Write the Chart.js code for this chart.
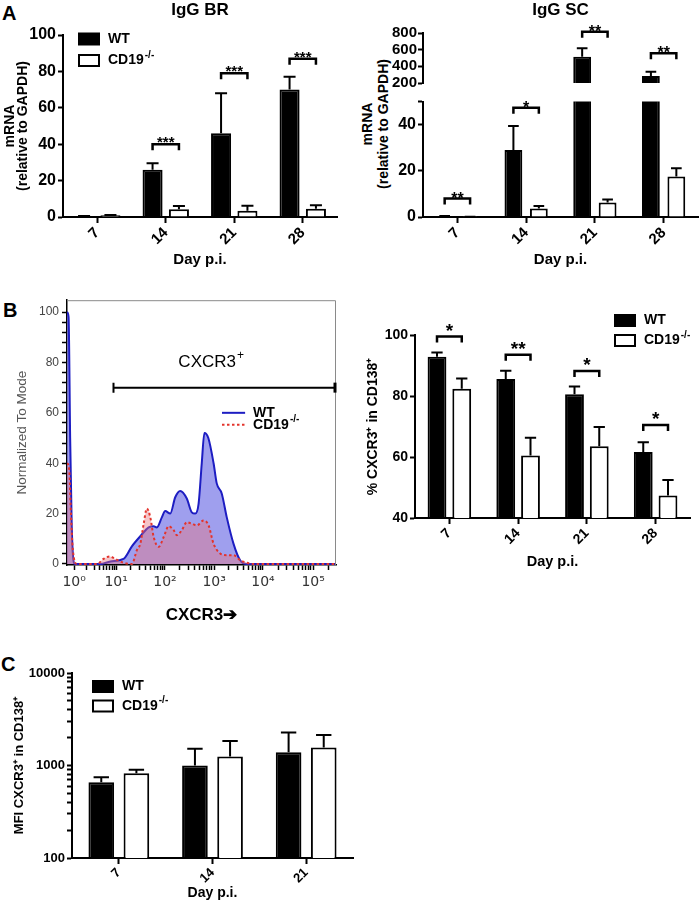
<!DOCTYPE html>
<html>
<head>
<meta charset="utf-8">
<script src="https://cdn.jsdelivr.net/npm/chart.js@4.4.1/dist/chart.umd.min.js"></script>
<style>
  body { margin: 0; background: #fff; width: 700px; height: 912px; position: relative; overflow: hidden; font-family: "Liberation Sans", Arial, sans-serif; }
  canvas { position: absolute; }
  .panel { position: absolute; font-weight: bold; font-size: 20px; line-height: 20px; }
  #scTitle { position: absolute; left: 275px; top: 108px; width: 200px; height: 32px; transform: rotate(-90deg);
             text-align: center; font-weight: bold; font-size: 14px; line-height: 16px; white-space: nowrap; }
</style>
</head>
<body>
<div class="panel" style="left:2px;top:3px">A</div>
<div class="panel" style="left:3px;top:300px">B</div>
<div class="panel" style="left:1px;top:654px">C</div>
<div id="scTitle">mRNA<br>(relative to GAPDH)</div>

<canvas id="brA"></canvas>
<canvas id="scTop"></canvas>
<canvas id="scBot"></canvas>
<canvas id="histB"></canvas>
<canvas id="pctB"></canvas>
<canvas id="mfiC"></canvas>

<script>
// ---- data ----
const days = ['7', '14', '21', '28'];
const daysC = ['7', '14', '21'];
const groups = ['WT', 'CD19-/-'];

// A, IgG BR
const brWT = [0.5, 26, 46, 70];
const brWTErr = [0.6, 29.5, 68, 77];
const brKO = [0.9, 4.2, 3.4, 4.6];
const brKOErr = [1.1, 6, 6.2, 6.5];
const brSig = ['', '***', '***', '***'];
const brSigY = [null, 40, 79, 87];

// A, IgG SC (broken axis)
const scWT = [0.3, 29, 515, 284];
const scWTErr = [0.4, 39.4, 616, 336];
const scKO = [0.1, 3.7, 6.3, 17.6];
const scKOErr = [0.15, 4.8, 7.6, 21.1];
const scSig = ['**', '*', '**', '**'];
const scSigY = [8, 47.3, 816, 556];

// B, histogram (x in display channels 0-1024)
const histTickPos = [27, 187, 373, 560, 746, 937];
const histTickLbl = ['10⁰', '10¹', '10²', '10³', '10⁴', '10⁵'];
const wtHistX = [0, 6, 12, 18, 28, 127, 165, 215, 247, 279, 311, 330, 342, 361, 374, 393, 412, 431, 456, 475, 488, 501, 513, 523, 538, 558, 570, 589, 608, 634, 659, 684, 1024];
const wtHistY = [100, 98, 50, 15, 0, 0, 1, 2, 7, 11, 14.5, 15, 14.5, 18.5, 21, 20, 26.5, 29, 26, 20.5, 20, 24, 40, 52, 50, 40, 32, 28, 18.6, 8, 1.5, 0, 0];
const koHistX = [0, 8, 15, 22, 38, 114, 139, 162, 184, 215, 247, 266, 279, 292, 304, 317, 330, 349, 368, 387, 406, 418, 437, 456, 475, 494, 520, 539, 558, 583, 608, 634, 659, 684, 710, 1024];
const koHistY = [40, 38, 20, 6, 0, 0, 2, 3, 2, 0.5, 0, 5.5, 8, 16, 22, 18.6, 10.7, 6.8, 10.7, 15, 13.4, 11.4, 13.4, 16.6, 16, 15.3, 17.3, 15.3, 8, 4.2, 3.5, 3.5, 1.5, 0.5, 0, 0];

// B, % CXCR3+
const pctWT = [92.9, 85.6, 80.6, 61.6];
const pctWTErr = [94.3, 88.3, 83.1, 64.8];
const pctKO = [82.4, 60.5, 63.5, 47.4];
const pctKOErr = [85.7, 66.3, 69.8, 52.5];
const pctSig = ['*', '**', '*', '*'];
const pctSigY = [99.5, 93.5, 88.2, 70.5];

// C, MFI
const mfiWT = [661, 1000, 1393];
const mfiWTErr = [748, 1513, 2270];
const mfiKO = [827, 1251, 1564];
const mfiKOErr = [898, 1845, 2143];

// ---- setup ----
const FONT = '"Liberation Sans", Arial, Helvetica, sans-serif';
Chart.defaults.font.family = FONT;
Chart.defaults.color = '#000';
Chart.defaults.animation = false;
Chart.defaults.responsive = false;
Chart.defaults.devicePixelRatio = 1;
Chart.defaults.plugins.legend.display = false;
Chart.defaults.plugins.tooltip.enabled = false;

function bold(size) { return { family: FONT, size: size, weight: 'bold' }; }

function merge(a, b) {
  for (const k in b) {
    if (b[k] && typeof b[k] === 'object' && !Array.isArray(b[k]) && a[k] && typeof a[k] === 'object') merge(a[k], b[k]);
    else a[k] = b[k];
  }
  return a;
}

function place(id, left, top, w, h) {
  const c = document.getElementById(id);
  c.width = w; c.height = h;
  c.style.left = left + 'px'; c.style.top = top + 'px';
  return c;
}

function xAxis(tickSize, height, title, titleSize, titleBottom) {
  return {
    type: 'category',
    afterFit: s => { s.height = height; },
    grid: { drawOnChartArea: false, offset: false, tickLength: 6, tickWidth: 2, color: '#000' },
    border: { width: 2, color: '#000' },
    ticks: { font: bold(tickSize), minRotation: 45, maxRotation: 45, padding: 1, color: '#000' },
    title: { display: true, text: title, font: bold(titleSize), color: '#000', padding: { top: 0, bottom: titleBottom } }
  };
}

function yAxis(tickSize, width, extra) {
  return merge({
    afterFit: s => { s.width = width; },
    grid: { drawOnChartArea: false, tickLength: 5, tickWidth: 2, color: '#000' },
    border: { width: 2, color: '#000' },
    ticks: { font: bold(tickSize), padding: 2, color: '#000', autoSkip: false }
  }, extra || {});
}

function barSets(wt, ko, cp, bp, clip) {
  const c = clip || { top: false, bottom: 0, left: false, right: false };
  return [
    { label: groups[0], data: wt, backgroundColor: '#000', borderColor: '#000', borderWidth: 2, categoryPercentage: cp, barPercentage: bp, clip: c },
    { label: groups[1], data: ko, backgroundColor: '#fff', borderColor: '#000', borderWidth: 2, categoryPercentage: cp, barPercentage: bp, clip: c }
  ];
}

// label with "-/-" or "+" drawn as superscript
function supText(ctx, text, x, y, size, weight) {
  let k = text.indexOf('-/-');
  if (k < 0 && text.endsWith('+')) k = text.length - 1;
  const main = k < 0 ? text : text.slice(0, k);
  ctx.font = weight + ' ' + size + 'px ' + FONT;
  ctx.fillText(main, x, y);
  if (k >= 0) {
    const w = ctx.measureText(main).width;
    ctx.font = weight + ' ' + Math.round(size * 0.68) + 'px ' + FONT;
    ctx.fillText(text.slice(k), x + w + 1, y - size * 0.38);
  }
}

// error bars, significance brackets, legend boxes
const extras = {
  id: 'extras',
  afterDatasetsDraw(chart, args, o) {
    const ctx = chart.ctx, y = chart.scales.y;
    if (!y) return;
    ctx.save();
    ctx.strokeStyle = '#000';
    ctx.fillStyle = '#000';
    if (o.errors) {
      ctx.lineWidth = 2;
      o.errors.forEach((errs, di) => {
        const meta = chart.getDatasetMeta(di);
        meta.data.forEach((bar, i) => {
          const v = chart.data.datasets[di].data[i];
          if (v < y.min || v > y.max) return;
          const top = y.getPixelForValue(errs[i]);
          const half = bar.width * 0.3;
          ctx.beginPath();
          ctx.moveTo(bar.x, bar.y);
          ctx.lineTo(bar.x, top);
          ctx.moveTo(bar.x - half, top);
          ctx.lineTo(bar.x + half, top);
          ctx.stroke();
        });
      });
    }
    if (o.sig) {
      const m0 = chart.getDatasetMeta(0), m1 = chart.getDatasetMeta(1);
      o.sig.levels.forEach((lv, i) => {
        if (lv == null || !o.sig.labels[i]) return;
        const x0 = m0.data[i].x, x1 = m1.data[i].x, py = y.getPixelForValue(lv);
        ctx.lineWidth = 2.5;
        ctx.beginPath();
        ctx.moveTo(x0, py + 6); ctx.lineTo(x0, py); ctx.lineTo(x1, py); ctx.lineTo(x1, py + 6);
        ctx.stroke();
        ctx.font = 'bold ' + o.sig.size + 'px ' + FONT;
        ctx.textAlign = 'center';
        ctx.textBaseline = 'alphabetic';
        ctx.fillText(o.sig.labels[i], (x0 + x1) / 2, py + o.sig.dy);
      });
    }
    if (o.legend) {
      const lg = o.legend;
      chart.data.datasets.forEach((ds, i) => {
        const yy = lg.y + i * lg.gap;
        ctx.fillStyle = ds.backgroundColor;
        ctx.fillRect(lg.x, yy - 5.5, 20, 11);
        ctx.lineWidth = 2;
        ctx.strokeRect(lg.x, yy - 5.5, 20, 11);
        ctx.fillStyle = '#000';
        ctx.textAlign = 'left';
        ctx.textBaseline = 'middle';
        supText(ctx, ds.label, lg.x + 29, yy, lg.size || 14, 'bold');
      });
    }
    ctx.restore();
  }
};

// histogram frame, gate and line legend
const flowDeco = {
  id: 'flowDeco',
  afterDatasetsDraw(chart, args, o) {
    if (!o.gate) return;
    const ctx = chart.ctx, x = chart.scales.x, y = chart.scales.y, a = chart.chartArea;
    ctx.save();
    ctx.strokeStyle = '#8a8a8a';
    ctx.lineWidth = 1;
    ctx.beginPath();
    ctx.moveTo(a.left, a.top + 0.5); ctx.lineTo(a.right - 0.5, a.top + 0.5); ctx.lineTo(a.right - 0.5, a.bottom);
    ctx.stroke();

    const gy = y.getPixelForValue(o.gate.y);
    const gx0 = x.getPixelForValue(o.gate.from), gx1 = x.getPixelForValue(o.gate.to);
    ctx.strokeStyle = '#000';
    ctx.lineWidth = 2;
    ctx.beginPath();
    ctx.moveTo(gx0, gy); ctx.lineTo(gx1, gy);
    ctx.moveTo(gx0, gy - 5); ctx.lineTo(gx0, gy + 5);
    ctx.stroke();
    ctx.lineWidth = 3;
    ctx.beginPath(); ctx.moveTo(gx1 - 1, gy - 5); ctx.lineTo(gx1 - 1, gy + 5); ctx.stroke();
    ctx.fillStyle = '#000';
    ctx.textBaseline = 'middle';
    ctx.font = '17px ' + FONT;
    const lbl = o.gate.label.slice(0, -1);
    const lw = ctx.measureText(lbl).width;
    const lx = x.getPixelForValue(o.gate.labelX), ly = y.getPixelForValue(o.gate.labelY);
    ctx.textAlign = 'left';
    supText(ctx, o.gate.label, lx - lw / 2 - 3, ly, 17, 'normal');

    chart.data.datasets.slice().reverse().forEach((ds, i) => {
      const yy = y.getPixelForValue(o.legend.y - i * o.legend.step);
      const lx0 = x.getPixelForValue(o.legend.x0), lx1 = x.getPixelForValue(o.legend.x1);
      ctx.strokeStyle = ds.borderColor;
      ctx.lineWidth = 2;
      ctx.setLineDash(ds.borderDash || []);
      ctx.beginPath(); ctx.moveTo(lx0, yy); ctx.lineTo(lx1, yy); ctx.stroke();
      ctx.setLineDash([]);
      ctx.fillStyle = '#000';
      supText(ctx, ds.label, lx1 + 8, yy, 14, 'bold');
    });
    ctx.restore();
  }
};
Chart.register(extras, flowDeco);

// ---- A: IgG BR ----
new Chart(place('brA', 0, 0, 350, 290), {
  type: 'bar',
  data: { labels: days, datasets: barSets(brWT, brKO, 0.77, 0.76) },
  options: {
    layout: { padding: { left: 0, right: 13, top: 0, bottom: 0 } },
    scales: {
      x: xAxis(15, 73, 'Day p.i.', 15, 21),
      y: yAxis(16, 63, {
        min: 0, max: 100, ticks: { stepSize: 20 },
        title: { display: true, text: ['mRNA', '(relative to GAPDH)'], font: { family: FONT, size: 14, weight: 'bold', lineHeight: 0.93 }, padding: { top: 4, bottom: 0 } }
      })
    },
    plugins: {
      title: { display: true, text: 'IgG BR', font: bold(17), color: '#000', fullSize: false, padding: { top: 0, bottom: 14.6 } },
      extras: { errors: [brWTErr, brKOErr], sig: { levels: brSigY, labels: brSig, size: 15, dy: 3 }, legend: { x: 79, y: 39, gap: 21.5 } }
    }
  }
});

// ---- A: IgG SC, upper part ----
new Chart(place('scTop', 350, 0, 350, 95), {
  type: 'bar',
  data: { labels: days, datasets: barSets(scWT, scKO, 0.74, 0.7, { top: false, bottom: 0, left: false, right: false }) },
  options: {
    layout: { padding: { left: 0, right: 2, top: 0, bottom: 12 } },
    scales: {
      x: { display: false },
      y: yAxis(15, 73, { min: 200, max: 800, ticks: { stepSize: 200, padding: 1 } })
    },
    plugins: {
      title: { display: true, text: 'IgG SC', font: bold(17), color: '#000', fullSize: false, padding: { top: 0, bottom: 12.6 } },
      extras: { errors: [scWTErr, scKOErr], sig: { levels: scSigY.map(v => v >= 200 ? v : null), labels: scSig, size: 16, dy: 5 } }
    }
  }
});

// ---- A: IgG SC, lower part ----
new Chart(place('scBot', 350, 90, 350, 200), {
  type: 'bar',
  data: { labels: days, datasets: barSets(scWT, scKO, 0.74, 0.7, { top: 0, bottom: 0, left: false, right: false }) },
  options: {
    layout: { padding: { left: 0, right: 2, top: 9.5, bottom: 0 } },
    scales: {
      x: xAxis(15, 73, 'Day p.i.', 15, 21),
      y: yAxis(16, 73, { min: 0, max: 50, ticks: { stepSize: 20, callback: v => v === 50 ? '' : v } })
    },
    plugins: {
      extras: { errors: [scWTErr, scKOErr], sig: { levels: scSigY.map(v => v < 200 ? v : null), labels: scSig, size: 16, dy: 5 } }
    }
  }
});

// ---- B: histogram ----
function histTicks() {
  const t = [];
  histTickPos.forEach((p, i) => {
    t.push({ value: p });
    const step = i < histTickPos.length - 1 ? histTickPos[i + 1] - p : p - histTickPos[i - 1];
    for (let k = 2; k < 10; k++) {
      const v = p + step * Math.log10(k);
      if (v <= 1024) t.push({ value: v });
    }
  });
  return t;
}
function zip(xs, ys) { return xs.map((x, i) => ({ x: x, y: ys[i] })); }

new Chart(place('histB', 0, 290, 350, 340), {
  type: 'line',
  data: {
    datasets: [
      { label: 'CD19-/-', data: zip(koHistX, koHistY), borderColor: '#e3342c', borderDash: [2.5, 2.5], borderWidth: 2,
        backgroundColor: 'rgba(230,115,125,0.42)', fill: 'origin', pointRadius: 0, cubicInterpolationMode: 'monotone', order: 0 },
      { label: 'WT', data: zip(wtHistX, wtHistY), borderColor: '#1d1dc2', borderWidth: 2,
        backgroundColor: 'rgba(100,100,228,0.62)', fill: 'origin', pointRadius: 0, cubicInterpolationMode: 'monotone', order: 1 }
    ]
  },
  options: {
    layout: { padding: { left: 0, right: 14, top: 7, bottom: 0 } },
    scales: {
      x: {
        type: 'linear', min: 0, max: 1024,
        afterFit: s => { s.height = 65; },
        afterBuildTicks: s => { s.ticks = histTicks(); },
        grid: { drawOnChartArea: false, tickLength: 5, tickWidth: 1.5, color: '#000' },
        border: { width: 1.5, color: '#000' },
        ticks: { autoSkip: false, maxRotation: 0, minRotation: 0, padding: 4, color: '#333', font: { family: '"DejaVu Sans", sans-serif', size: 14 },
                 callback: v => { const i = histTickPos.indexOf(v); return i < 0 ? '' : histTickLbl[i]; } },
        title: { display: true, text: 'CXCR3➔', font: bold(17), color: '#000', padding: { top: 0, bottom: 4.8 } }
      },
      y: {
        type: 'linear', min: -0.4, max: 104.7,
        afterFit: s => { s.width = 67; },
        afterBuildTicks: s => { const t = []; for (let v = 0; v <= 100; v += 4) t.push({ value: v }); s.ticks = t; },
        grid: { drawOnChartArea: false, tickLength: 5, tickWidth: 1.5, color: '#000' },
        border: { width: 1.5, color: '#000' },
        ticks: { autoSkip: false, padding: 3, color: '#444', font: { family: FONT, size: 12 }, callback: v => v % 20 === 0 ? v : '' },
        title: { display: true, text: 'Normalized To Mode', color: '#555', font: { family: FONT, size: 13.5 }, padding: { top: 14, bottom: 0 } }
      }
    },
    plugins: {
      flowDeco: {
        gate: { y: 70, from: 177, to: 1024, label: 'CXCR3+', labelX: 545, labelY: 80 },
        legend: { x0: 590, x1: 678, y: 60, step: 4.7 }
      }
    }
  }
});

// ---- B: % CXCR3+ in CD138+ ----
new Chart(place('pctB', 350, 290, 350, 290), {
  type: 'bar',
  data: { labels: days, datasets: barSets(pctWT, pctKO, 0.72, 0.76) },
  options: {
    layout: { padding: { left: 0, right: 10, top: 45, bottom: 0 } },
    scales: {
      x: xAxis(14, 62, 'Day p.i.', 14.5, 9),
      y: yAxis(14, 65, {
        min: 40, max: 100, ticks: { stepSize: 20 },
        title: { display: true, text: '% CXCR3⁺ in CD138⁺', font: bold(14), color: '#000', padding: { top: 15, bottom: 0 } }
      })
    },
    plugins: {
      extras: { errors: [pctWTErr, pctKOErr], sig: { levels: pctSigY, labels: pctSig, size: 19, dy: 0 }, legend: { x: 265, y: 30.5, gap: 20 } }
    }
  }
});

// ---- C: MFI ----
new Chart(place('mfiC', 0, 640, 370, 272), {
  type: 'bar',
  data: { labels: daysC, datasets: barSets(mfiWT, mfiKO, 0.75, 0.73) },
  options: {
    layout: { padding: { left: 0, right: 17, top: 33, bottom: 0 } },
    scales: {
      x: xAxis(13, 54, 'Day p.i.', 14, 10.6),
      y: yAxis(13, 72, {
        type: 'logarithmic', min: 100, max: 10000,
        afterBuildTicks: s => {
          const t = [];
          for (let d = 100; d < 10000; d *= 10) for (let k = 1; k < 10; k++) t.push({ value: d * k });
          t.push({ value: 10000 });
          s.ticks = t;
        },
        ticks: { callback: v => (v === 100 || v === 1000 || v === 10000) ? String(v) : '' },
        title: { display: true, text: 'MFI CXCR3⁺ in CD138⁺', font: bold(13), color: '#000', padding: { top: 12, bottom: 0 } }
      })
    },
    plugins: {
      extras: { errors: [mfiWTErr, mfiKOErr], legend: { x: 93, y: 46.5, gap: 19.5 } }
    }
  }
});
</script>
</body>
</html>
